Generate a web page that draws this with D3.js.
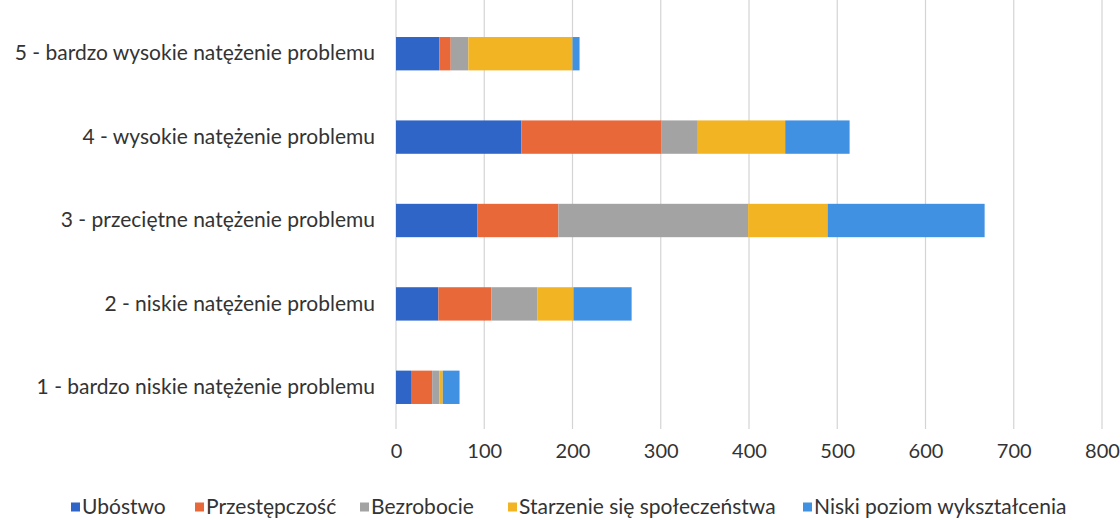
<!DOCTYPE html>
<html>
<head>
<meta charset="utf-8">
<script src="https://cdn.jsdelivr.net/npm/d3@7"></script>
<style>
  html, body { margin: 0; padding: 0; background: #ffffff; }
  svg { display: block; }
  text { font-family: Lato, "Open Sans", sans-serif; fill: #333; }
</style>
</head>
<body>
<svg id="chart" width="1120" height="520"></svg>
<script>
// Categories (bottom to top as listed on the axis)
const categories = [
  "1 - bardzo niskie natężenie problemu",
  "2 - niskie natężenie problemu",
  "3 - przeciętne natężenie problemu",
  "4 - wysokie natężenie problemu",
  "5 - bardzo wysokie natężenie problemu"
];

// Series names (stack order, left to right)
const seriesNames = [
  "Ubóstwo",
  "Przestępczość",
  "Bezrobocie",
  "Starzenie się społeczeństwa",
  "Niski poziom wykształcenia"
];

// Values per series, aligned with categories
const ubostwo       = [17, 48, 92, 142, 49];
const przestepczosc = [24, 60, 92, 159, 13];
const bezrobocie    = [8, 52, 215, 41, 20];
const starzenie     = [4, 41, 90, 99, 118];
const wyksztalcenie = [19, 66, 178, 73, 8];

const seriesValues = [ubostwo, przestepczosc, bezrobocie, starzenie, wyksztalcenie];
const seriesColors = ["#2f65c6", "#e9683a", "#a3a3a3", "#f3b423", "#4191e3"];

const xTicks = [0, 100, 200, 300, 400, 500, 600, 700, 800];

const svg = d3.select("#chart");

const rows = categories.map((c, i) => {
  const row = { category: c };
  seriesNames.forEach((s, j) => { row[s] = seriesValues[j][i]; });
  return row;
});

const x = d3.scaleLinear().domain([0, 800]).range([396, 1102]);
const y = d3.scaleBand()
  .domain(categories.slice().reverse())
  .range([12, 429])
  .paddingInner(0.6)
  .paddingOuter(0.3);

// Vertical gridlines
svg.append("g")
  .selectAll("line")
  .data(xTicks)
  .join("line")
  .attr("x1", d => x(d)).attr("x2", d => x(d))
  .attr("y1", 0).attr("y2", 429)
  .attr("stroke", "#d4d4d4")
  .attr("stroke-width", 1.2);

// Stacked bars
const stack = d3.stack().keys(seriesNames)(rows);
svg.append("g")
  .selectAll("g")
  .data(stack)
  .join("g")
  .attr("fill", (d, i) => seriesColors[i])
  .selectAll("rect")
  .data(d => d)
  .join("rect")
  .attr("x", d => x(d[0]))
  .attr("width", d => x(d[1]) - x(d[0]))
  .attr("y", d => y(d.data.category))
  .attr("height", y.bandwidth());

// Category labels
const yAxis = d3.axisLeft(y).tickSize(0).tickPadding(21);
const gy = svg.append("g").attr("transform", `translate(${x(0)},0)`).call(yAxis);
gy.select(".domain").remove();
gy.selectAll("text")
  .attr("font-size", 21)
  .attr("fill", "#333")
  .attr("font-family", "Lato, sans-serif");

// Value axis labels
const xAxis = d3.axisBottom(x).tickValues(xTicks).tickSize(0).tickPadding(15);
const gx = svg.append("g").attr("transform", "translate(0,429)").call(xAxis);
gx.select(".domain").remove();
gx.selectAll("text")
  .attr("font-size", 20)
  .attr("fill", "#333")
  .attr("font-family", "Lato, sans-serif");

// Legend
const legendX = [71, 195, 360, 508, 803];
const legend = svg.append("g");
seriesNames.forEach((s, i) => {
  const g = legend.append("g").attr("transform", `translate(${legendX[i]},507)`);
  g.append("rect").attr("x", 0).attr("y", -4.5).attr("width", 9).attr("height", 9)
    .attr("fill", seriesColors[i]);
  g.append("text").attr("x", 11).attr("y", 7)
    .attr("font-size", 21)
    .attr("fill", "#333")
    .text(s);
});
</script>
</body>
</html>
